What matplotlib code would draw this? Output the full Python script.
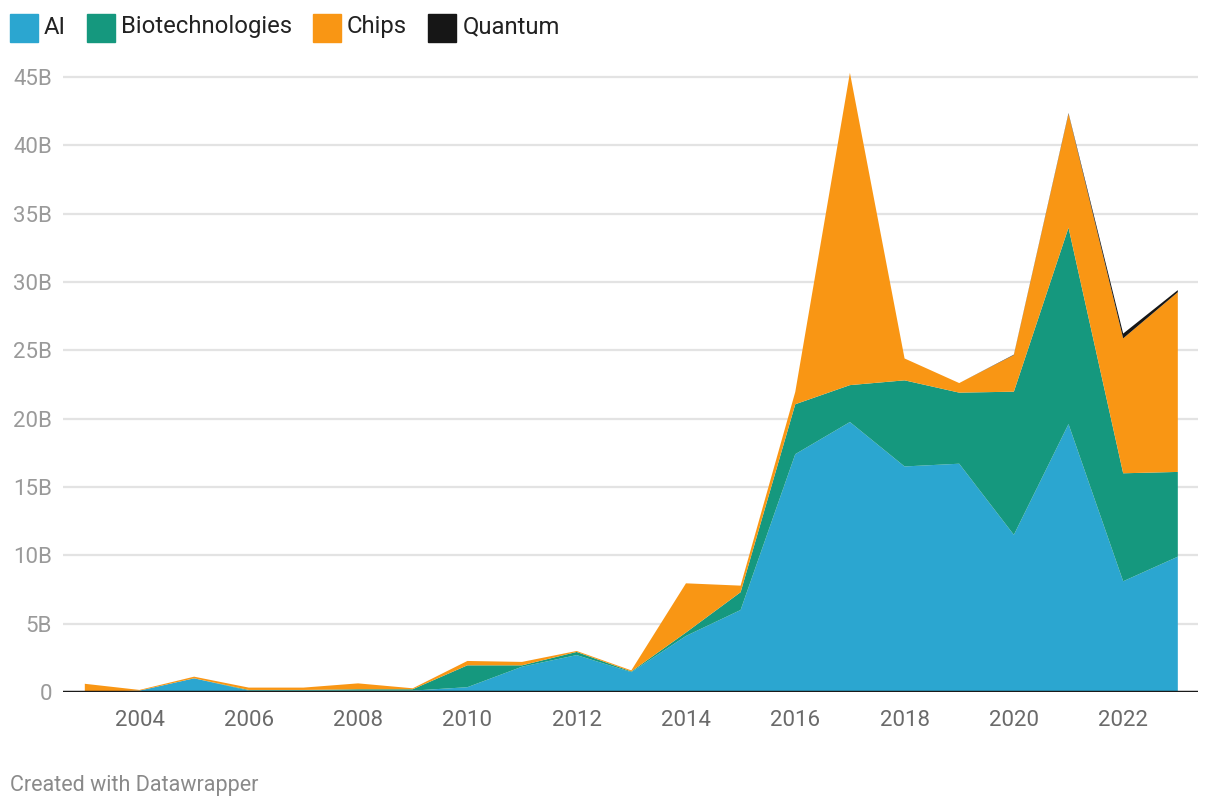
import matplotlib
matplotlib.use("Agg")
from matplotlib import pyplot as plt
from matplotlib.patches import Rectangle

plt.rcParams['font.family'] = ['Roboto', 'DejaVu Sans']

# investment per year, in billions
years = list(range(2003, 2024))
ai = [0, 0.1, 1.0, 0.1, 0.1, 0.1, 0.1, 0.35, 1.85, 2.7, 1.45, 4.1, 6.0,
      17.4, 19.75, 16.5, 16.7, 11.5, 19.6, 8.1, 9.9]
bio = [0, 0, 0, 0.05, 0.05, 0.1, 0.1, 1.6, 0.1, 0.23, 0.05, 0.25, 1.3,
       3.65, 2.7, 6.3, 5.2, 10.47, 14.37, 7.9, 6.2]
chips = [0.6, 0.05, 0.12, 0.17, 0.17, 0.43, 0.07, 0.32, 0.25, 0.07, 0.08, 3.6, 0.48,
         0.9, 22.85, 1.6, 0.7, 2.68, 8.33, 9.87, 13.15]
quantum = [0] * 17 + [0.03, 0.05, 0.35, 0.15]

names = ["AI", "Biotechnologies", "Chips", "Quantum"]
colors = ["#2ba6d0", "#15987e", "#f99614", "#161616"]
yticks = [0, 5, 10, 15, 20, 25, 30, 35, 40, 45]
xticks = list(range(2004, 2023, 2))

fig = plt.figure(figsize=(12.2, 8.1), dpi=100)
ax = fig.add_axes([0.0516, 0.1457, 0.9304, 0.7695])

ax.stackplot(years, ai, bio, chips, quantum, colors=colors, linewidth=0, zorder=2)

ax.set_xlim(2002.6, 2023.37)
ax.set_ylim(0, 45.6)

for y in yticks[1:]:
    ax.axhline(y, color="#e3e3e3", lw=1.6, zorder=1)
ax.axhline(0, color="#1a1a1a", lw=2.5, zorder=3)

for s in ax.spines.values():
    s.set_visible(False)

ax.set_yticks(yticks)
ax.set_yticklabels(["0"] + [f"{v}B" for v in yticks[1:]])
ax.set_xticks(xticks)
ax.set_xticklabels([str(x) for x in xticks])
ax.tick_params(axis="y", length=0, pad=8, labelsize=16, labelcolor="#9a9a9a")
ax.tick_params(axis="x", length=0, pad=13, labelsize=16, labelcolor="#6a6a6a")

# legend along the top
lx = 10
for name, c in zip(names, colors):
    fig.patches.append(Rectangle((lx / 1220, 1 - 42 / 810), 28 / 1220, 28 / 810,
                                 transform=fig.transFigure, color=c))
    t = fig.text((lx + 34) / 1220, 1 - 27 / 810, name, fontsize=17.2, color="#222222",
                 va="center", ha="left")
    fig.canvas.draw()
    bb = t.get_window_extent()
    lx = bb.x1 + 21

fig.text(10 / 1220, 1 - 785 / 810, "Created with Datawrapper", fontsize=15.5,
         color="#8a8a8a", va="center", ha="left")

plt.savefig("out.png", dpi=100)
